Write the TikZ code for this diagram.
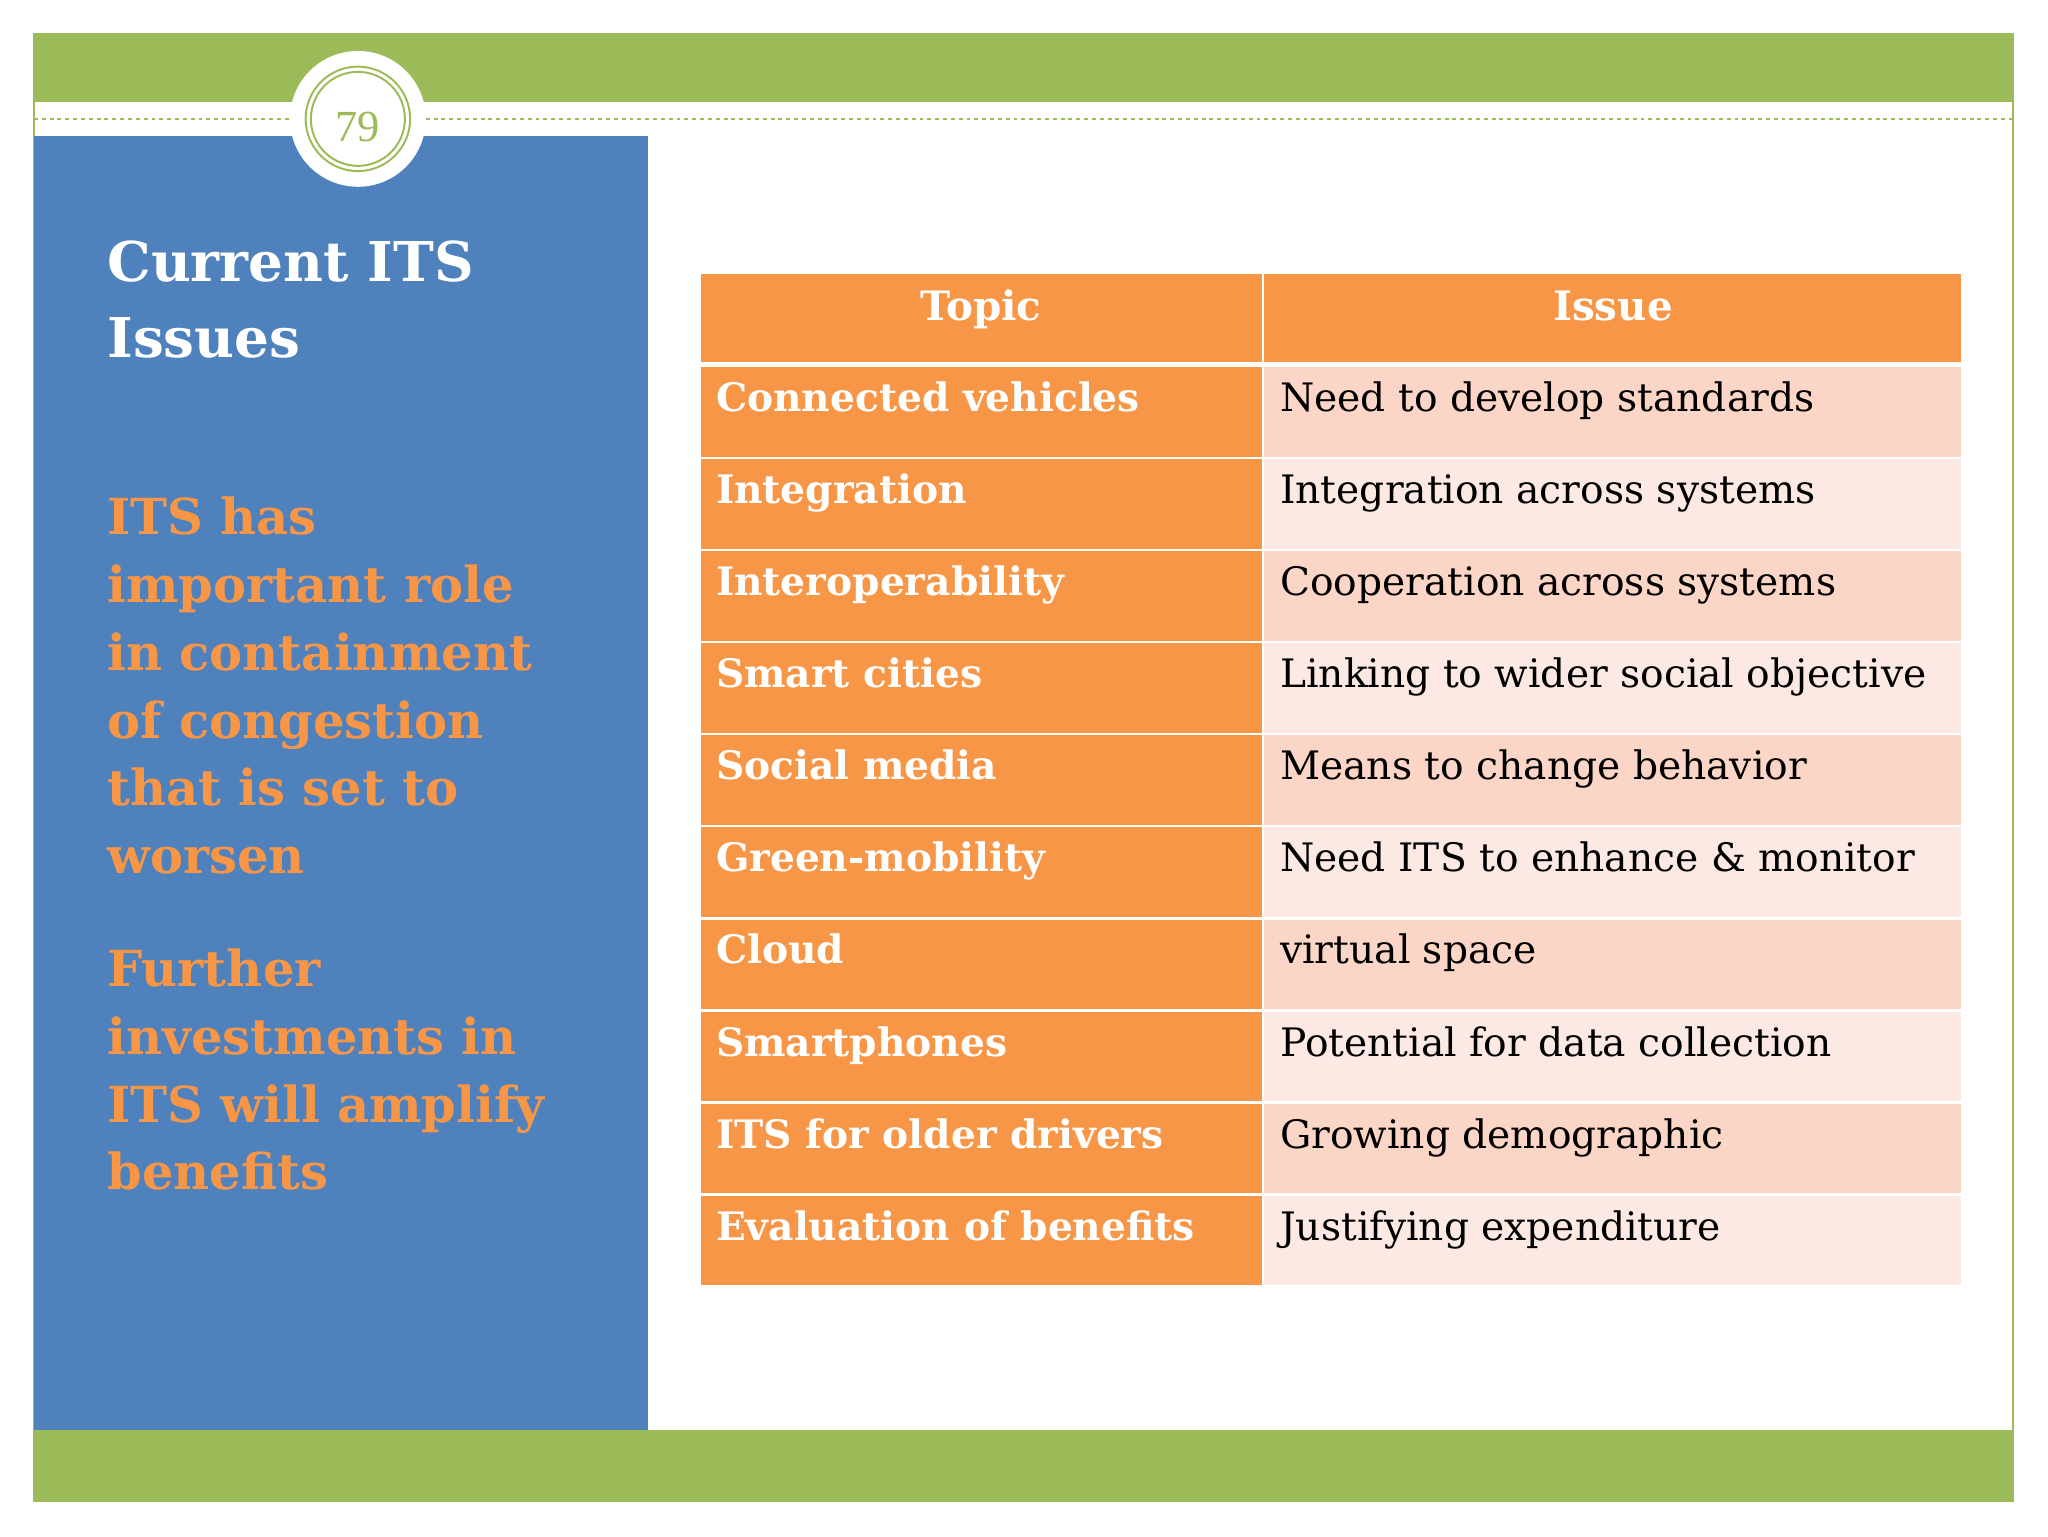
\documentclass[tikz,border=0pt]{standalone}
\usepackage{fontspec}
\setmainfont{DejaVu Serif}
\usetikzlibrary{calc}
\definecolor{grn}{HTML}{9BBB59}
\definecolor{blu}{HTML}{4F81BD}
\definecolor{org}{HTML}{F79646}
\definecolor{pk1}{HTML}{FBD5C5}
\definecolor{pk2}{HTML}{FDE9E4}
\definecolor{otx}{HTML}{F79646}
\tikzset{
 topic/.style={anchor=base west,font=\fontsize{30}{30}\selectfont\bfseries,text=white,inner sep=0},
 issue/.style={anchor=base west,font=\fontsize{30}{30}\selectfont,text=black,inner sep=0},
 hdr/.style={anchor=base,font=\fontsize{31}{31}\selectfont\bfseries,text=white,inner sep=0},
 side/.style={anchor=north west,align=left,inner sep=0,font=\fontsize{38}{52}\selectfont\bfseries}
}
\begin{document}
\begin{tikzpicture}[x=1pt,y=-1pt]
\useasboundingbox (0,0) rectangle (1568,1176);
\fill[white] (0,0) rectangle (1568,1176);
\draw[grn,line width=1.5] (26,26) rectangle (1541,1149);
\fill[grn] (26,26) rectangle (1541,78);
\fill[grn] (26,1095) rectangle (1541,1149);
\fill[blu] (26,104) rectangle (496,1095);
\draw[grn,dashed,line width=1.2] (26,91) -- (1541,91);
\node[circle,fill=white,minimum size=104,inner sep=0] (c) at (274,91) {};
\draw[grn,line width=1.5] (c.center) circle (40);
\draw[grn,line width=1.5] (c.center) circle (36);
\node[text=grn,font=\fontsize{30}{30}\selectfont\rmfamily] at (274,97) {\setmainfont{Liberation Serif}\fontsize{34}{34}\selectfont 79};
\node[side,text=white,font=\fontsize{42}{58}\selectfont\bfseries] (t) at (82,184) {Current ITS\\Issues};
\node[side,text=otx] (p1) at (82,380) {ITS has\\important role\\in containment\\of congestion\\that is set to\\worsen};
\node[side,text=otx] (p2) at (82,726) {Further\\investments in\\ITS will amplify\\benefits};
% table
\fill[org] (537,210) rectangle (966,277);
\fill[org] (968,210) rectangle (1501,277);
\node[hdr] (h1) at (751,245) {Topic};
\node[hdr] (h2) at (1235,245) {Issue};
\foreach \i/\a/\b in {0/Connected vehicles/Need to develop standards,
 1/Integration/Integration across systems,
 2/Interoperability/Cooperation across systems,
 3/Smart cities/Linking to wider social objective,
 4/Social media/Means to change behavior,
 5/Green-mobility/Need ITS to enhance \& monitor,
 6/Cloud / virtual space/Continuity concerns,
 7/Smartphones/Potential for data collection,
 8/ITS for older drivers/Growing demographic,
 9/Evaluation of benefits/Justifying expenditure}{
 \pgfmathsetmacro\yt{281+70.5*\i}
 \pgfmathsetmacro\yb{\yt+68.5}
 \pgfmathtruncatemacro\odd{mod(\i,2)}
 \fill[org] (537,\yt) rectangle (966,\yb);
 \ifnum\odd=0 \fill[pk1] (968,\yt) rectangle (1501,\yb); \else \fill[pk2] (968,\yt) rectangle (1501,\yb); \fi
 \node[topic] (a\i) at (548,\yt+34) {\a};
 \node[issue] (b\i) at (980,\yt+34) {\b};
}
\end{tikzpicture}
\end{document}
